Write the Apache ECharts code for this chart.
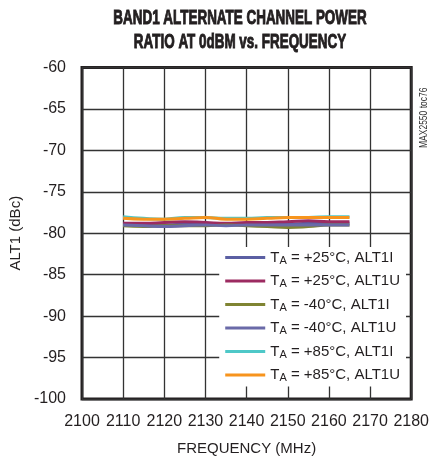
<!DOCTYPE html>
<html><head><meta charset="utf-8">
<script src="https://cdn.jsdelivr.net/npm/echarts@6/dist/echarts.min.js"></script>
<style>html,body{margin:0;padding:0;background:#fff}#c{width:432px;height:461px}</style>
</head><body><div id="c"></div>
<script>
const freq = [2110, 2115, 2120, 2125, 2130, 2135, 2140, 2145, 2150, 2155, 2160, 2165];
const p25I  = [-78.9, -78.9, -79.0, -78.9, -78.8, -78.9, -79.0, -78.9, -78.9, -78.8, -78.8, -78.8];
const p25U  = [-78.8, -78.8, -78.7, -78.6, -78.7, -78.8, -78.7, -78.7, -78.6, -78.5, -78.6, -78.6];
const m40I  = [-79.1, -79.2, -79.1, -79.1, -79.1, -79.0, -79.1, -79.2, -79.3, -79.2, -79.0, -79.0];
const m40U  = [-79.0, -79.1, -79.2, -79.1, -79.0, -79.1, -79.0, -79.0, -79.0, -79.0, -79.0, -79.0];
const p85I  = [-78.0, -78.2, -78.3, -78.1, -78.1, -78.2, -78.2, -78.1, -78.1, -78.1, -78.0, -78.0];
const p85U  = [-78.2, -78.3, -78.3, -78.2, -78.1, -78.3, -78.3, -78.2, -78.1, -78.1, -78.1, -78.1];
const seriesNames = ['+25°C, ALT1I', '+25°C, ALT1U', '-40°C, ALT1I', '-40°C, ALT1U', '+85°C, ALT1I', '+85°C, ALT1U'];
const seriesData = [p25I, p25U, m40I, m40U, p85I, p85U];
const colors = ['#5b5fa3', '#9c2b61', '#7f8432', '#6a6aa8', '#4ec8c8', '#f7941d'];
const xTicks = {min: 2100, max: 2180, interval: 10};
const yTicks = {min: -100, max: -60, interval: 5};

const FONT = '"Liberation Sans", Arial, sans-serif';
const chart = echarts.init(document.getElementById('c'));
chart.setOption({
  animation: false,
  color: colors,
  graphic: [
    {type: 'text', x: 240, y: 18, scaleX: 0.64,
     style: {text: 'BAND1 ALTERNATE CHANNEL POWER', fontFamily: FONT, fontWeight: 'bold', fontSize: 21, fill: '#231f20', align: 'center', verticalAlign: 'middle', stroke: '#231f20', lineWidth: 1}},
    {type: 'text', x: 240, y: 42, scaleX: 0.64,
     style: {text: 'RATIO AT 0dBM vs. FREQUENCY', fontFamily: FONT, fontWeight: 'bold', fontSize: 21, fill: '#231f20', align: 'center', verticalAlign: 'middle', stroke: '#231f20', lineWidth: 1}},
    {type: 'text', x: 429, y: 148, rotation: Math.PI / 2, scaleX: 0.85,
     style: {text: 'MAX2550 toc76', fontFamily: FONT, fontSize: 10, fill: '#333', align: 'left', verticalAlign: 'bottom'}}
  ],
  grid: {left: 82, top: 67.5, width: 331, height: 331.5, show: true, borderColor: '#231f20', borderWidth: 3},
  legend: {
    orient: 'vertical', right: 26, top: 247,
    backgroundColor: '#fff', padding: [3, 6, 3, 6],
    icon: 'rect', itemWidth: 40, itemHeight: 3, itemGap: 7.5,
    data: seriesNames,
    formatter: n => '{t|T}{s|A}{t| = ' + n + '}',
    textStyle: {
      fontFamily: FONT, fontSize: 15, color: '#231f20',
      rich: {
        t: {fontFamily: FONT, fontSize: 15, color: '#231f20'},
        s: {fontFamily: FONT, fontSize: 11, color: '#231f20', verticalAlign: 'bottom', padding: [6, 0, 0, 0]}
      }
    }
  },
  xAxis: {
    type: 'value', min: xTicks.min, max: xTicks.max, interval: xTicks.interval,
    name: 'FREQUENCY (MHz)', nameLocation: 'middle', nameGap: 42,
    nameTextStyle: {fontFamily: FONT, fontSize: 15, color: '#231f20'},
    axisLine: {show: false}, axisTick: {show: false},
    axisLabel: {fontFamily: FONT, fontSize: 16, color: '#231f20', margin: 15, showMinLabel: true, showMaxLabel: true, formatter: v => String(v)},
    splitLine: {show: true, lineStyle: {color: '#333', width: 1.3}}
  },
  yAxis: {
    type: 'value', min: yTicks.min, max: yTicks.max, interval: yTicks.interval,
    name: 'ALT1 (dBc)', nameLocation: 'middle', nameGap: 57,
    nameTextStyle: {fontFamily: FONT, fontSize: 15, color: '#231f20'},
    axisLine: {show: false}, axisTick: {show: false},
    axisLabel: {fontFamily: FONT, fontSize: 16, color: '#231f20', margin: 16, formatter: v => String(v)},
    splitLine: {show: true, lineStyle: {color: '#333', width: 1.3}}
  },
  series: seriesNames.map((n, i) => ({
    name: n, type: 'line', smooth: true, showSymbol: false,
    lineStyle: {width: 3},
    data: freq.map((f, j) => [f, seriesData[i][j]])
  }))
});
</script></body></html>
